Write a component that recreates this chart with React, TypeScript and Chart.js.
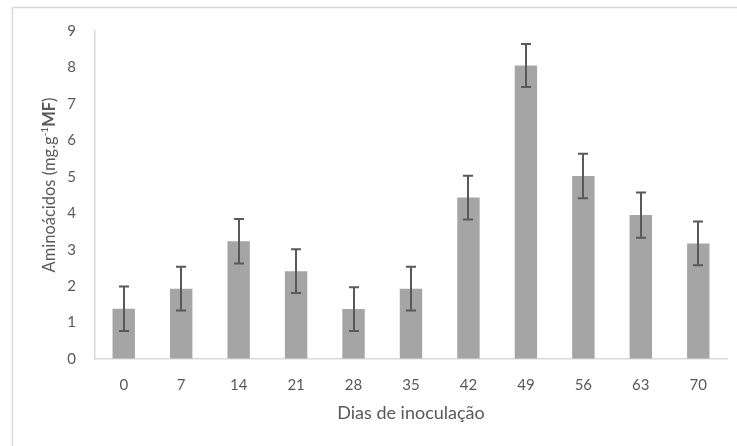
import React, { useEffect, useRef } from "react";
import { Chart, registerables } from "chart.js";

Chart.register(...registerables);

const categories = ["0", "7", "14", "21", "28", "35", "42", "49", "56", "63", "70"];
const values = [1.38, 1.93, 3.23, 2.41, 1.37, 1.93, 4.43, 8.05, 5.02, 3.95, 3.17];
const errors = [0.61, 0.6, 0.61, 0.6, 0.6, 0.6, 0.6, 0.59, 0.61, 0.62, 0.6];
const yTicks = [0, 1, 2, 3, 4, 5, 6, 7, 8, 9];
const xTitle = "Dias de inoculação";
const yTitleParts = ["Aminoácidos (mg.g", "-1", "MF", ")"];

const FONT = "Lato, 'Open Sans', sans-serif";
const TEXT = "#595959";

const framePlugin = {
  id: "frame",
  beforeDraw(chart: any) {
    const ctx = chart.ctx;
    ctx.save();
    ctx.fillStyle = "#ffffff";
    ctx.fillRect(0, 0, chart.width, chart.height);
    ctx.strokeStyle = "#d9d9d9";
    ctx.lineWidth = 1.5;
    ctx.beginPath();
    ctx.moveTo(12.5, chart.height);
    ctx.lineTo(12.5, 7.5);
    ctx.lineTo(chart.width, 7.5);
    ctx.stroke();
    ctx.restore();
  },
};

const errorBarPlugin = {
  id: "errorBars",
  afterDatasetsDraw(chart: any) {
    const ctx = chart.ctx;
    const meta = chart.getDatasetMeta(0);
    const ys = chart.scales.y;
    ctx.save();
    ctx.strokeStyle = "#595959";
    ctx.lineWidth = 2;
    meta.data.forEach((bar: any, i: number) => {
      const x = Math.round(bar.x);
      const top = ys.getPixelForValue(values[i] + errors[i]);
      const bot = ys.getPixelForValue(values[i] - errors[i]);
      ctx.beginPath();
      ctx.moveTo(x, top);
      ctx.lineTo(x, bot);
      ctx.moveTo(x - 5, top);
      ctx.lineTo(x + 5, top);
      ctx.moveTo(x - 5, bot);
      ctx.lineTo(x + 5, bot);
      ctx.stroke();
    });
    ctx.restore();
  },
};

const yTitlePlugin = {
  id: "yTitle",
  afterDraw(chart: any) {
    const ctx = chart.ctx;
    const area = chart.chartArea;
    const cy = (area.top + area.bottom) / 2 - 10;
    const cx = 50;
    const normal = `16.5px ${FONT}`;
    const small = `10px ${FONT}`;
    const bold = `bold 16.5px ${FONT}`;
    const fonts = [normal, small, bold, normal];
    const widths = yTitleParts.map((t, i) => {
      ctx.font = fonts[i];
      return ctx.measureText(t).width;
    });
    const total = widths.reduce((a, b) => a + b, 0);
    ctx.save();
    ctx.translate(cx, cy);
    ctx.rotate(-Math.PI / 2);
    ctx.fillStyle = TEXT;
    ctx.textBaseline = "middle";
    ctx.textAlign = "left";
    let x = -total / 2;
    yTitleParts.forEach((t, i) => {
      ctx.font = fonts[i];
      const dy = i === 1 ? -5 : 0;
      ctx.fillText(t, x, dy);
      x += widths[i];
    });
    ctx.restore();
  },
};

export default function App() {
  const ref = useRef<HTMLCanvasElement | null>(null);
  useEffect(() => {
    if (!ref.current) return;
    const chart = new Chart(ref.current, {
      type: "bar",
      data: {
        labels: categories,
        datasets: [
          {
            data: values,
            backgroundColor: "#a5a5a5",
            borderWidth: 0,
            barPercentage: 0.39,
            categoryPercentage: 1,
          },
        ],
      },
      options: {
        animation: false,
        responsive: false,
        maintainAspectRatio: false,
        layout: { padding: { left: 0, top: 31, right: 10, bottom: 22 } },
        plugins: { legend: { display: false }, tooltip: { enabled: false } },
        scales: {
          x: {
            afterFit(scale: any) {
              scale.height = 65;
            },
            grid: { display: true, drawOnChartArea: false, drawTicks: false },
            border: { display: true, color: "#d9d9d9", width: 1.5 },
            ticks: { color: TEXT, font: { family: FONT, size: 15 }, padding: 17, maxRotation: 0 },
            title: {
              display: true,
              text: xTitle,
              color: TEXT,
              font: { family: FONT, size: 18 },
              padding: { top: 0, bottom: 0 },
            },
          },
          y: {
            min: 0,
            max: 9,
            afterFit(scale: any) {
              scale.width = 95;
            },
            afterBuildTicks(scale: any) {
              scale.ticks = yTicks.map((v) => ({ value: v }));
            },
            grid: { display: true, drawOnChartArea: false, drawTicks: false },
            border: { display: true, color: "#d9d9d9", width: 1.5 },
            ticks: { color: TEXT, font: { family: FONT, size: 15 }, padding: 19 },
          },
        },
      },
      plugins: [framePlugin, errorBarPlugin, yTitlePlugin],
    });
    return () => chart.destroy();
  }, []);
  return (
    <div style={{ position: "absolute", left: 0, top: 0, width: 737, height: 446 }}>
      <canvas ref={ref} width={737} height={446} style={{ width: 737, height: 446 }} />
    </div>
  );
}
